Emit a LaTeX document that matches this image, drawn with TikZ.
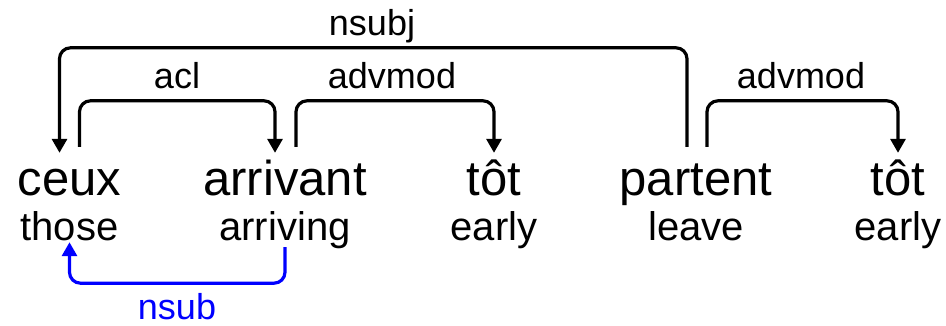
\documentclass[tikz,border=0pt]{standalone}
\usepackage{fontspec}
\setmainfont{Liberation Sans}
\usetikzlibrary{arrows.meta}
\begin{document}
\begin{tikzpicture}[x=1pt,y=-1pt,
  word/.style={anchor=base,inner sep=0pt,text height=42pt,text depth=0pt,
    font=\fontsize{49}{52}\selectfont},
  gloss/.style={anchor=base,inner sep=0pt,text height=30pt,text depth=2pt,
    font=\fontsize{40}{44}\selectfont},
  rel/.style={anchor=base,inner sep=0pt,font=\fontsize{36}{40}\selectfont},
  arc/.style={draw=black,line width=3.2pt,rounded corners=11pt,
    -{Triangle[width=15pt,length=14pt]},shorten <=6pt},
  arcb/.style={arc,draw=blue,shorten <=5pt}]
\useasboundingbox (0,0) rectangle (946,325);

% words
\node[word] (ceux) at (69.5,195) {ceux};
\node[word] (arrivant) at (285,195) {arrivant};
\node[word] (tot1) at (494,195) {tôt};
\node[word] (partent) at (696,195) {partent};
\node[word] (tot2) at (898,195) {tôt};

% glosses
\node[gloss] (those) at (69.5,240) {those};
\node[gloss] (arriving) at (285,240) {arriving};
\node[gloss] (early1) at (494,240) {early};
\node[gloss] (leave) at (696,240) {leave};
\node[gloss] (early2) at (898,240) {early};

% dependency arcs
\draw[arc] ([xshift=-9pt]partent.north) -- ++(0,-105) -| ([xshift=-10pt]ceux.north);
\draw[arc] ([xshift=10pt]ceux.north) -- ++(0,-52) -| ([xshift=-10pt]arrivant.north);
\draw[arc] ([xshift=11pt]arrivant.north) -- ++(0,-52) -| (tot1.north);
\draw[arc] ([xshift=11pt]partent.north) -- ++(0,-52) -| (tot2.north);
\draw[arcb] (arriving.south) -- ++(0,41) -| (those.south);

% relation labels
\node[rel] (l1) at (372,35) {nsubj};
\node[rel] (l2) at (177,88) {acl};
\node[rel] (l3) at (392,88) {advmod};
\node[rel] (l4) at (801,88) {advmod};
\node[rel,text=blue] (l5) at (177,319) {nsub};
\end{tikzpicture}
\end{document}
